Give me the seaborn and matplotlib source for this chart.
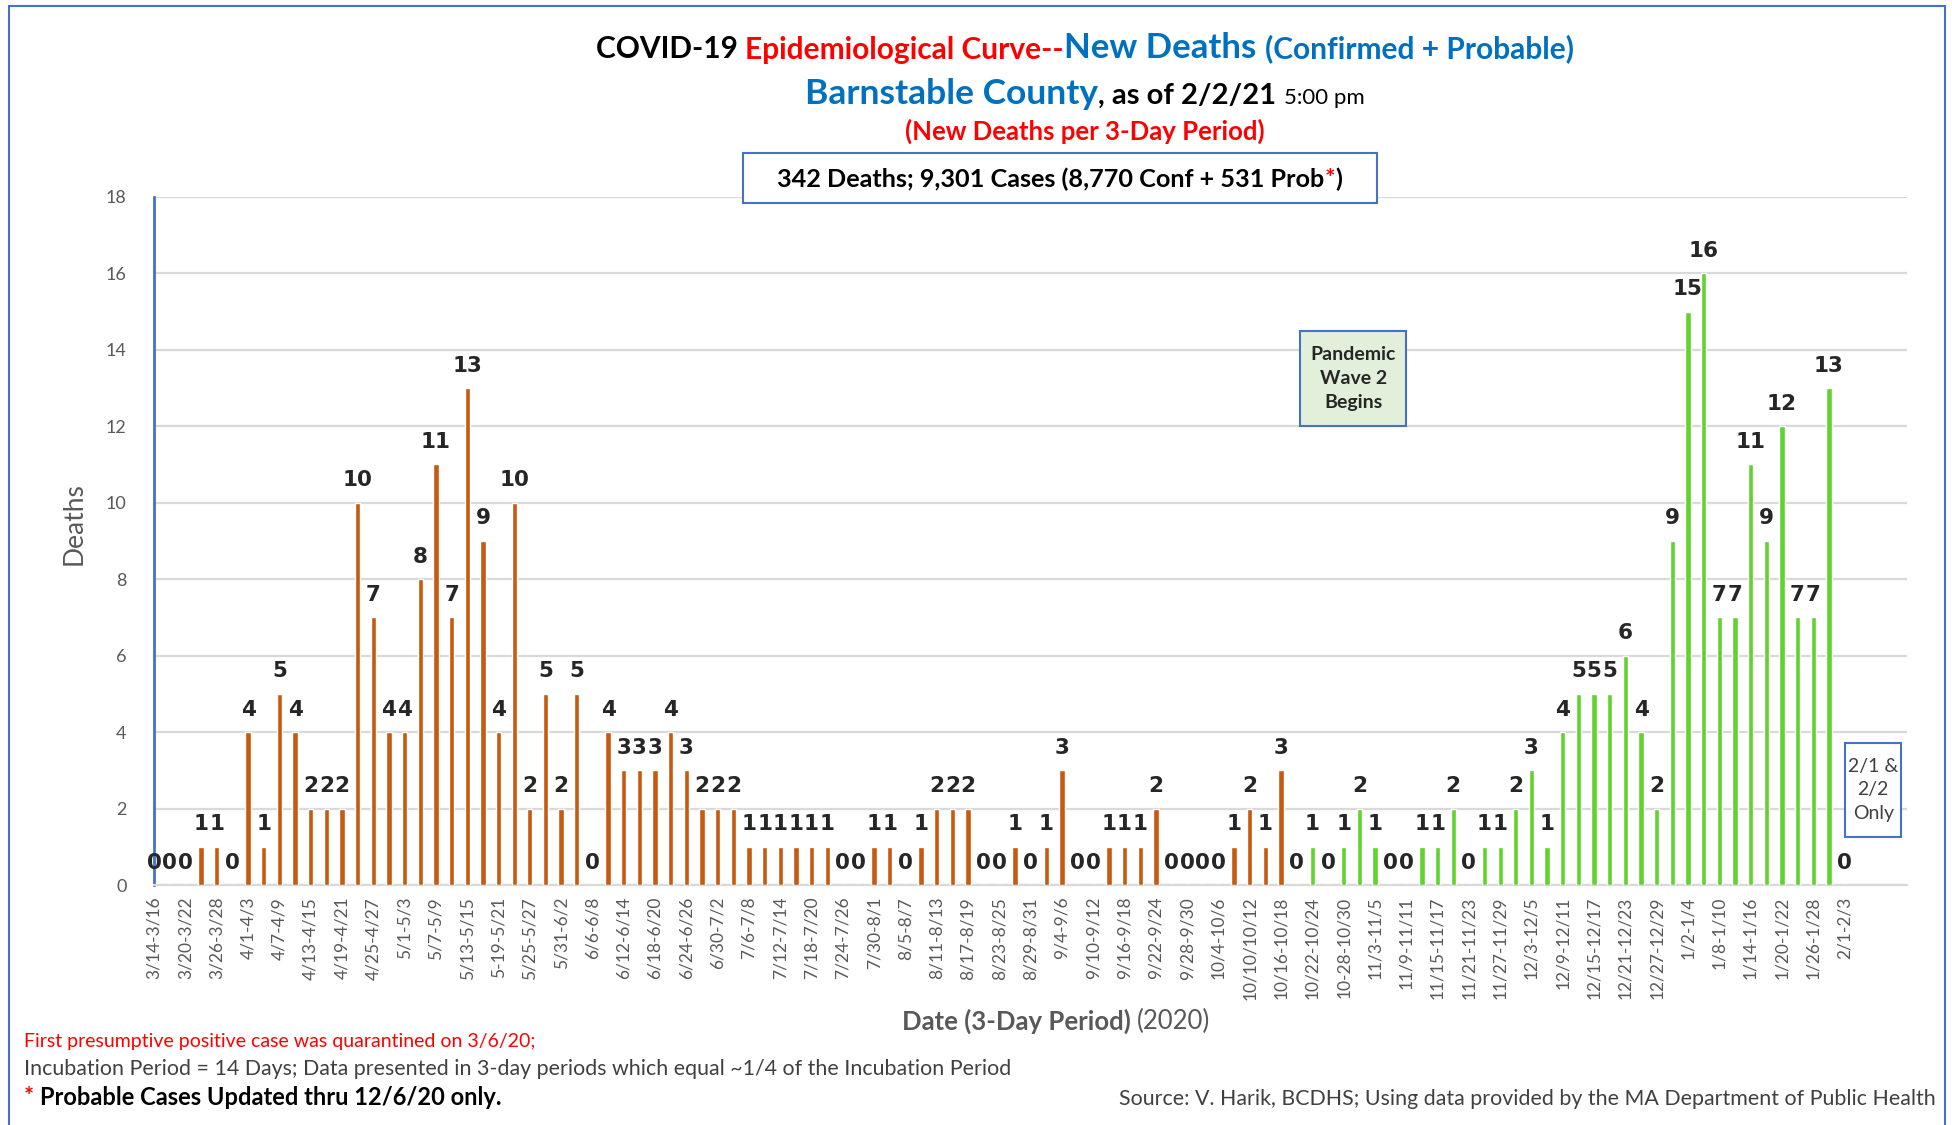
import numpy as np
import pandas as pd
import seaborn as sns
import matplotlib.pyplot as plt
from matplotlib.patches import Rectangle

# new deaths per 3-day period, 3/14-3/16 (2020) through 2/1-2/3 (2021)
deaths = [0, 0, 0, 1, 1, 0, 4, 1, 5, 4,
          2, 2, 2, 10, 7, 4, 4, 8, 11, 7,
          13, 9, 4, 10, 2, 5, 2, 5, 0, 4,
          3, 3, 3, 4, 3, 2, 2, 2, 1, 1,
          1, 1, 1, 1, 0, 0, 1, 1, 0, 1,
          2, 2, 2, 0, 0, 1, 0, 1, 3, 0,
          0, 1, 1, 1, 2, 0, 0, 0, 0, 1,
          2, 1, 3, 0, 1, 0, 1, 2, 1, 0,
          0, 1, 1, 2, 0, 1, 1, 2, 3, 1,
          4, 5, 5, 5, 6, 4, 2, 9, 15, 16,
          7, 7, 11, 9, 12, 7, 7, 13, 0]
wave = ["Wave 1"] * 73 + ["Wave 2"] * 36

# every other period is labelled on the axis
tick_labels = ["3/14-3/16", "3/20-3/22", "3/26-3/28", "4/1-4/3", "4/7-4/9",
               "4/13-4/15", "4/19-4/21", "4/25-4/27", "5/1-5/3", "5/7-5/9",
               "5/13-5/15", "5-19-5/21", "5/25-5/27", "5/31-6/2", "6/6-6/8",
               "6/12-6/14", "6/18-6/20", "6/24-6/26", "6/30-7/2", "7/6-7/8",
               "7/12-7/14", "7/18-7/20", "7/24-7/26", "7/30-8/1", "8/5-8/7",
               "8/11-8/13", "8/17-8/19", "8/23-8/25", "8/29-8/31", "9/4-9/6",
               "9/10-9/12", "9/16-9/18", "9/22-9/24", "9/28-9/30", "10/4-10/6",
               "10/10/10/12", "10/16-10/18", "10/22-10/24", "10-28-10/30", "11/3-11/5",
               "11/9-11/11", "11/15-11/17", "11/21-11/23", "11/27-11/29", "12/3-12/5",
               "12/9-12/11", "12/15-12/17", "12/21-12/23", "12/27-12/29", "1/2-1/4",
               "1/8-1/10", "1/14-1/16", "1/20-1/22", "1/26-1/28", "2/1-2/3"]
n_slots = 113  # axis keeps a few empty periods after 2/1-2/3

ORANGE = "#C55A11"
GREEN = "#62D22F"
BLUE = "#4472C4"
GRAY = "#595959"

sns.set_style("white")
plt.rcParams["font.family"] = ["Lato", "DejaVu Sans"]

df = pd.DataFrame({"period": np.arange(len(deaths)), "deaths": deaths, "wave": wave})

fig = plt.figure(figsize=(19.52, 11.25), dpi=100)
ax = fig.add_axes([0.079, 0.2133, 0.898, 0.6117])

sns.barplot(data=df, x="period", y="deaths", hue="wave", native_scale=True,
            dodge=False, width=0.34, palette={"Wave 1": ORANGE, "Wave 2": GREEN},
            saturation=1, errorbar=None, legend=False, ax=ax, zorder=3)

for cont in ax.containers:
    ax.bar_label(cont, fmt="%d", padding=9, fontsize=15.5, fontweight="bold",
                 color="#262626", family="DejaVu Sans")

ax.set_xlim(0, n_slots - 1)
ax.set_ylim(0, 18)
ax.set_yticks(np.arange(0, 19, 2))
ax.yaxis.grid(True, color="#D9D9D9", linewidth=1.6, zorder=0)
ax.set_axisbelow(True)
ax.set_xticks(np.arange(0, len(tick_labels) * 2, 2))
ax.set_xticklabels(tick_labels, rotation=90, fontsize=12.5, color=GRAY)
ax.set_xticks(np.arange(n_slots), minor=True)
ax.tick_params(axis="x", which="both", direction="out", length=5, color="#BFBFBF", width=1)
ax.tick_params(axis="y", length=0, labelsize=13, labelcolor=GRAY, pad=20)
for s in ["top", "right"]:
    ax.spines[s].set_visible(False)
ax.spines["left"].set_color(BLUE)
ax.spines["left"].set_linewidth(2)
ax.spines["bottom"].set_color("#D9D9D9")
ax.spines["bottom"].set_linewidth(1.6)
ax.set_xlabel("")
ax.set_ylabel("Deaths", fontsize=19, color=GRAY)
ax.yaxis.set_label_coords(-0.0385, 0.525)

# boxed notes inside the plot
ax.add_patch(Rectangle((73.2, 12.0), 6.8, 2.5, facecolor="#E2EFDA", edgecolor=BLUE,
                       linewidth=1.5, zorder=4))
ax.text(76.6, 13.25, "Pandemic\nWave 2\nBegins", ha="center", va="center", fontsize=14,
        fontweight="bold", color="#262626", linespacing=1.5, zorder=5)
ax.add_patch(Rectangle((108.05, 1.26), 3.55, 2.46, facecolor="white", edgecolor=BLUE,
                       linewidth=1.5, zorder=4))
ax.text(109.83, 2.49, "2/1 &\n2/2\nOnly", ha="center", va="center", fontsize=14,
        color="#404040", linespacing=1.45, zorder=5)

W, H = fig.get_size_inches() * fig.dpi
renderer = fig.canvas.get_renderer()


def rich_line(xc, y, runs, ha="center", zorder=6):
    texts = [fig.text(0, y, s, va="baseline", ha="left", zorder=zorder, **kw) for s, kw in runs]
    widths = [t.get_window_extent(renderer).width for t in texts]
    total = sum(widths)
    x = xc * W - (total / 2 if ha == "center" else (total if ha == "right" else 0))
    for t, w in zip(texts, widths):
        t.set_x(x / W)
        x += w


TC = 0.5558
rich_line(TC, 0.948, [
    ("COVID-19 ", dict(color="black", fontsize=21.5, fontweight="bold")),
    ("Epidemiological Curve--", dict(color="#FF0000", fontsize=21.5, fontweight="bold")),
    ("New Deaths ", dict(color="#0070C0", fontsize=25, fontweight="bold")),
    ("(Confirmed + Probable)", dict(color="#0070C0", fontsize=21.5, fontweight="bold")),
])
rich_line(TC, 0.908, [
    ("Barnstable County", dict(color="#0070C0", fontsize=25.5, fontweight="bold")),
    (", as of 2/2/21 ", dict(color="black", fontsize=21, fontweight="bold")),
    ("5:00 pm", dict(color="black", fontsize=16)),
])
rich_line(TC, 0.876, [
    ("(New Deaths per 3-Day Period)", dict(color="#FF0000", fontsize=18.5, fontweight="bold")),
])

fig.add_artist(Rectangle((0.3806, 0.8196), 0.3248, 0.0444, transform=fig.transFigure,
                         facecolor="white", edgecolor=BLUE, linewidth=1.5, zorder=5))
rich_line(0.5430, 0.834, [
    ("342 Deaths; 9,301 Cases (8,770 Conf + 531 Prob", dict(color="black", fontsize=18.2, fontweight="bold")),
    ("*", dict(color="#FF0000", fontsize=18.2, fontweight="bold")),
    (")", dict(color="black", fontsize=18.2, fontweight="bold")),
])

rich_line(0.541, 0.085, [
    ("Date (3-Day Period) ", dict(color=GRAY, fontsize=18.5, fontweight="bold")),
    ("(2020)", dict(color=GRAY, fontsize=18.5)),
])

fig.text(0.0125, 0.069, "First presumptive positive case was quarantined on 3/6/20;",
         color="#FF0000", fontsize=14, va="baseline")
fig.text(0.0125, 0.0445, "Incubation Period = 14 Days; Data presented in 3-day periods which equal ~1/4 of the Incubation Period",
         color="#404040", fontsize=15.4, va="baseline")
rich_line(0.0125, 0.0175, [
    ("* ", dict(color="#FF0000", fontsize=17, fontweight="bold")),
    ("Probable Cases Updated thru 12/6/20 only.", dict(color="black", fontsize=17, fontweight="bold")),
], ha="left")
fig.text(0.9915, 0.0175, "Source: V. Harik, BCDHS; Using data provided by the MA Department of Public Health",
         color="#404040", fontsize=15.4, va="baseline", ha="right")

# outer frame
fig.add_artist(Rectangle((0.0046, -0.02), 0.9918, 1.0147, transform=fig.transFigure,
                         fill=False, edgecolor=BLUE, linewidth=1.5, zorder=10))

fig.savefig("out.png", dpi=100)
